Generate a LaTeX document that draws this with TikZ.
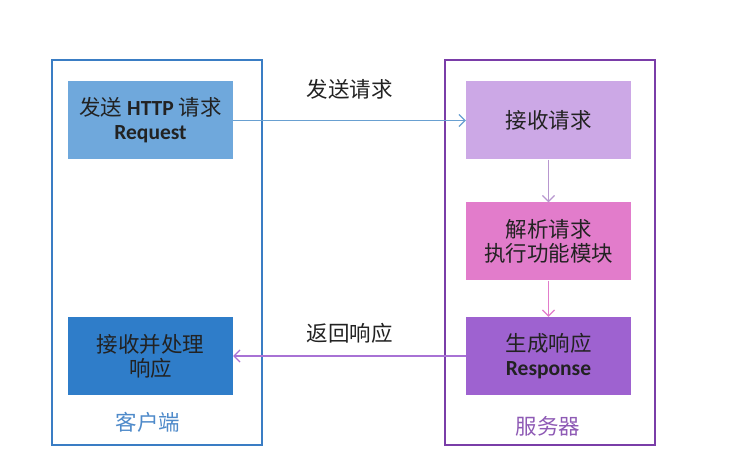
\documentclass[tikz,border=0pt]{standalone}
\usepackage{fontspec}
\setmainfont{Carlito}
\newfontfamily\cjk{Noto Sans CJK SC}
\usetikzlibrary{arrows.meta, positioning}
\tikzset{>={Straight Barb[length=6pt,width=12pt]}}

\definecolor{clientblue}{HTML}{3A7DC4}
\definecolor{reqblue}{HTML}{6FA8DC}
\definecolor{respblue}{HTML}{2F7DC9}
\definecolor{serverpurple}{HTML}{7A3DA8}
\definecolor{recvpurple}{HTML}{CCA8E6}
\definecolor{parsepink}{HTML}{E27CCB}
\definecolor{genpurple}{HTML}{9E62D0}
\definecolor{textgray}{HTML}{222222}

\begin{document}
\begin{tikzpicture}[x=1pt, y=-1pt,
  every node/.style={font=\fontsize{21.5}{24}\selectfont, text=textgray},
  frame/.style={draw, line width=2pt, minimum width=210pt, minimum height=385pt},
  stage/.style={minimum width=165pt, minimum height=78pt, align=center, inner sep=0pt},
  flow/.style={->, line width=1.2pt}
]
\useasboundingbox[fill=white] (0,0) rectangle (756,476);

% Client and server frames
\node[frame, draw=clientblue] (client) at (157,252.5) {};
\node[frame, draw=serverpurple] (server) at (550,252.5) {};

% Client side
\node[stage, fill=reqblue] (sendreq) at (150.5,120.5)
  {{\cjk 发送} \textbf{HTTP} {\cjk 请求}\\\textbf{Request}};
\node[stage, fill=respblue] (handleresp) at (150.5,356)
  {\cjk 接收并处理\\\cjk 响应};
\node[text=clientblue!90] (clientlabel) at (148,422) {\cjk 客户端};

% Server side
\node[stage, fill=recvpurple] (recvreq) at (548.5,120.5) {\cjk 接收请求};
\node[stage, fill=parsepink] (parsereq) at (548.5,241.5)
  {\cjk 解析请求\\\cjk 执行功能模块};
\node[stage, fill=genpurple] (genresp) at (548.5,356)
  {{\cjk 生成响应}\\\textbf{Response}};
\node[text=serverpurple!85] (serverlabel) at (548,426) {\cjk 服务器};

% Messages between client and server
\draw[flow, draw=reqblue!95!black] (sendreq) -- (recvreq)
  node[midway, above=17pt] {\cjk 发送请求};
\draw[flow, draw=genpurple!90] (genresp) -- (handleresp)
  node[midway, above=9pt] {\cjk 返回响应};

% Server pipeline
\draw[flow, draw=recvpurple!90!black] (recvreq) -- (parsereq);
\draw[flow, draw=parsepink] (parsereq) -- (genresp);

\end{tikzpicture}
\end{document}
